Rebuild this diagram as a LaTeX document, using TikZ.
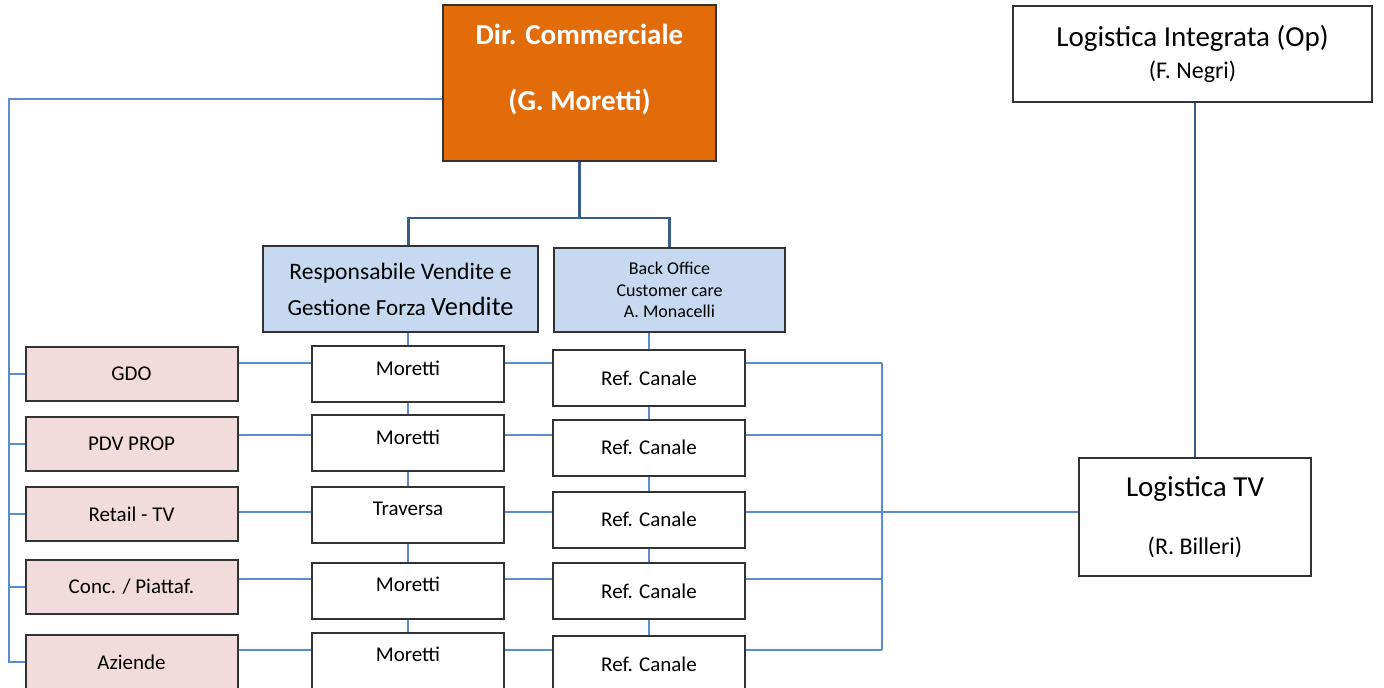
\documentclass[tikz,border=0pt]{standalone}
\usepackage{fontspec}
\setmainfont{Carlito}
\usepackage{xcolor}
\usetikzlibrary{positioning}
\definecolor{dirorange}{HTML}{E36C0A}
\definecolor{headblue}{HTML}{C6D9F1}
\definecolor{chanpink}{HTML}{F2DCDB}
\definecolor{wireblue}{HTML}{5A8ED0}
\definecolor{wiredark}{HTML}{385D8A}

\begin{document}
\begin{tikzpicture}[x=0.5pt,y=-0.5pt,
	box/.style={rectangle,draw=black!80,line width=1pt,inner sep=0pt,align=center},
	dirbox/.style={box,fill=dirorange,minimum width=136.5pt,minimum height=78pt},
	dirtext/.style={inner sep=0pt,text=white,font=\bfseries\fontsize{14.5}{17}\selectfont},
	headbox/.style={box,fill=headblue},
	chanbox/.style={box,fill=chanpink,minimum width=106pt,minimum height=27pt,font=\fontsize{10.5}{12}\selectfont},
	namebox/.style={box,fill=white,minimum width=96pt,minimum height=28pt,font=\fontsize{10.5}{12}\selectfont},
	logbox/.style={box,fill=white,font=\fontsize{14.5}{17}\selectfont},
	wire/.style={draw=wireblue,line width=1pt},
	mainwire/.style={draw=wiredark,line width=1.1pt}]
	\useasboundingbox (0,0) rectangle (1384,687);
	\clip (0,0) rectangle (1384,687);

	% top
	\node[dirbox] (dir) at (579.5,83) {};
	\node[dirtext] (dirname) at (579.5,34) {Dir. Commerciale};
	\node[dirtext] (dirwho) at (579.5,102) {(G. Moretti)};
	\node[logbox,minimum width=179.5pt,minimum height=48pt] (logint) at (1192.5,54)
		{Logistica Integrata (Op)\\[-1pt]{\fontsize{12}{14}\selectfont (F. Negri)}};
	\node[logbox,minimum width=116pt,minimum height=59pt] (logtv) at (1195,517)
		{Logistica TV\\[12pt]{\fontsize{12}{14}\selectfont (R. Billeri)}};

	% heads
	\node[headbox,minimum width=137.5pt,minimum height=43pt,font=\fontsize{11.8}{18}\selectfont] (resp) at (400.5,289)
		{Responsabile Vendite e\\{\fontsize{11.5}{18}\selectfont Gestione Forza }{\fontsize{13.2}{18}\selectfont Vendite}};
	\node[headbox,minimum width=115.5pt,minimum height=42pt,font=\fontsize{9}{10.75}\selectfont] (bo) at (669.5,290)
		{Back Office\\Customer care\\A. Monacelli};

	% channels
	\node[chanbox] (p1) at (131.5,374) {GDO};
	\node[chanbox] (p2) at (131.5,444) {PDV PROP};
	\node[chanbox] (p3) at (131.5,514) {Retail - TV};
	\node[chanbox] (p4) at (131.5,586.5) {Conc. / Piattaf.};
	\node[chanbox] (p5) at (131.5,662) {Aziende};

	\node[namebox,text depth=6pt] (m1) at (408,374) {Moretti};
	\node[namebox,text depth=6pt] (m2) at (408,443) {Moretti};
	\node[namebox,text depth=6pt] (m3) at (408,515) {Traversa};
	\node[namebox,text depth=6pt] (m4) at (408,590.5) {Moretti};
	\node[namebox,text depth=6pt] (m5) at (408,660.5) {Moretti};

	\node[namebox] (c1) at (649,378) {Ref. Canale};
	\node[namebox] (c2) at (649,447.5) {Ref. Canale};
	\node[namebox] (c3) at (649,519.5) {Ref. Canale};
	\node[namebox] (c4) at (649,591) {Ref. Canale};
	\node[namebox] (c5) at (649,664) {Ref. Canale};

	% lines
	\coordinate (split) at (579.5,218);
	\draw[mainwire] (dir.south) -- (split) -| ([xshift=4pt]resp.north);
	\draw[mainwire] (split) -| (bo.north);
	\draw[mainwire] (logtv.north |- logint.south) -- (logtv.north);

	\coordinate (ltop) at (9,99);
	\draw[wire] (dir.west |- ltop) -- (ltop) -- (ltop |- p5.west) -- (p5.west);
	\draw[wire] (ltop |- p1.west) -- (p1.west)
		(ltop |- p2.west) -- (p2.west)
		(ltop |- p3.west) -- (p3.west)
		(ltop |- p4.west) -- (p4.west);

	\draw[wire] (m1.north |- resp.south) -- (m1.north) (m1.south) -- (m2.north)
		(m2.south) -- (m3.north) (m3.south) -- (m4.north) (m4.south) -- (m5.north);
	\draw[wire] (c1.north |- bo.south) -- (c1.north) (c1.south) -- (c2.north)
		(c2.south) -- (c3.north) (c3.south) -- (c4.north) (c4.south) -- (c5.north);

	\coordinate (r1) at (882,363);
	\coordinate (r2) at (882,435);
	\coordinate (r3) at (882,512);
	\coordinate (r4) at (882,579);
	\coordinate (r5) at (882,650);
	\draw[wire] (p1.east |- r1) -- (m1.west |- r1) (m1.east |- r1) -- (c1.west |- r1) (c1.east |- r1) -- (r1);
	\draw[wire] (p2.east |- r2) -- (m2.west |- r2) (m2.east |- r2) -- (c2.west |- r2) (c2.east |- r2) -- (r2);
	\draw[wire] (p3.east |- r3) -- (m3.west |- r3) (m3.east |- r3) -- (c3.west |- r3) (c3.east |- r3) -- (r3);
	\draw[wire] (p4.east |- r4) -- (m4.west |- r4) (m4.east |- r4) -- (c4.west |- r4) (c4.east |- r4) -- (r4);
	\draw[wire] (p5.east |- r5) -- (m5.west |- r5) (m5.east |- r5) -- (c5.west |- r5) (c5.east |- r5) -- (r5);
	\draw[wire] (r1) -- (r5) (r3) -- (logtv.west |- r3);
\end{tikzpicture}
\end{document}
